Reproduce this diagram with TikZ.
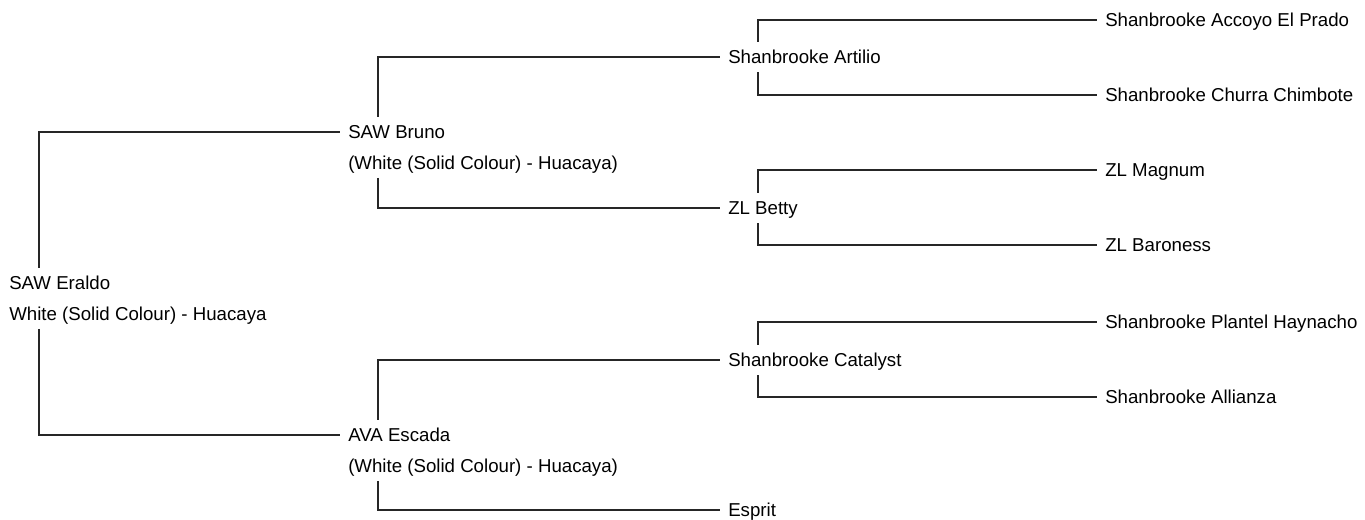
\documentclass[tikz,border=0pt]{standalone}
\usepackage{fontspec}
\setmainfont{Liberation Sans}
\usetikzlibrary{positioning}
\definecolor{linegray}{HTML}{262626}
\tikzset{
  animal/.style={anchor=west, inner xsep=6pt, inner ysep=4.25pt,
    text height=12pt, text depth=2pt, font=\fontsize{14}{16}\selectfont},
  colour/.style={animal, below=0pt of #1.south west, anchor=north west},
  link/.style={draw=linegray, line width=0.9pt},
}
\def\stem{28.5pt}
% vertical stem of a parent, then the elbow to each child
\newcommand{\parents}[3]{
  \draw[link] ([xshift=\stem]#1.north west) |- (#2.west);
  \draw[link] ([xshift=\stem]#1.south west) |- (#3.west);
}

\begin{document}
\begin{tikzpicture}[x=0.75pt, y=-0.75pt]
    \useasboundingbox (0,0) rectangle (1365,519);

    % generation 1
    \node[animal] (eraldo) at (1, 283) {SAW Eraldo};
    \node[colour=eraldo] (eraldocol) {White (Solid Colour) - Huacaya};

    % generation 2
    \node[animal] (bruno) at (340, 132) {SAW Bruno};
    \node[colour=bruno] (brunocol) {(White (Solid Colour) - Huacaya)};
    \node[animal] (escada) at (340, 435) {AVA Escada};
    \node[colour=escada] (escadacol) {(White (Solid Colour) - Huacaya)};

    % generation 3
    \node[animal] (artilio) at (720, 57) {Shanbrooke Artilio};
    \node[animal] (betty) at (720, 208) {ZL Betty};
    \node[animal] (catalyst) at (720, 360) {Shanbrooke Catalyst};
    \node[animal] (esprit) at (720, 510) {Esprit};

    % generation 4
    \node[animal] (accoyo) at (1097, 20) {Shanbrooke Accoyo El Prado};
    \node[animal] (churra) at (1097, 95) {Shanbrooke Churra Chimbote};
    \node[animal] (magnum) at (1097, 170) {ZL Magnum};
    \node[animal] (baroness) at (1097, 245) {ZL Baroness};
    \node[animal] (plantel) at (1097, 322) {Shanbrooke Plantel Haynacho};
    \node[animal] (allianza) at (1097, 397) {Shanbrooke Allianza};

    % connectors
    \draw[link] ([xshift=\stem]eraldo.north west) |- (bruno.west);
    \draw[link] ([xshift=\stem]eraldocol.south west) |- (escada.west);
    \draw[link] ([xshift=\stem]bruno.north west) |- (artilio.west);
    \draw[link] ([xshift=\stem]brunocol.south west) |- (betty.west);
    \draw[link] ([xshift=\stem]escada.north west) |- (catalyst.west);
    \draw[link] ([xshift=\stem]escadacol.south west) |- (esprit.west);
    \parents{artilio}{accoyo}{churra}
    \parents{betty}{magnum}{baroness}
    \parents{catalyst}{plantel}{allianza}
\end{tikzpicture}
\end{document}
